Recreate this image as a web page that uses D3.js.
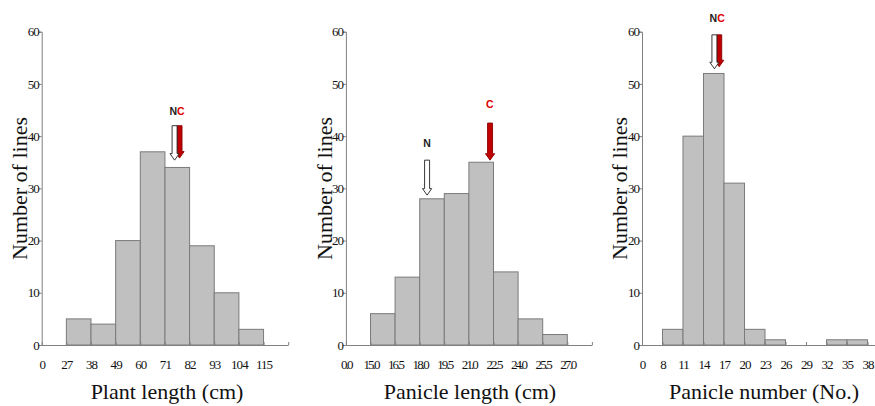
<!DOCTYPE html>
<html>
<head>
<meta charset="utf-8">
<script src="https://cdn.jsdelivr.net/npm/d3@7"></script>
<style>
  body { margin: 0; background: #fff; }
  svg { display: block; }
</style>
</head>
<body>
<div id="holder"></div>
<script>
// histogram counts per bin, bin edges follow the tick labels
const plantTicks = [0, 27, 38, 49, 60, 71, 82, 93, 104, 115];
const plantCounts = [5, 4, 20, 37, 34, 19, 10, 3];
const panLenTicks = [0, 15, 16.5, 18, 19.5, 21, 22.5, 24, 25.5, 27];
const panLenCounts = [6, 13, 28, 29, 35, 14, 5, 2];
const panNumTicks = [0, 8, 11, 14, 17, 20, 23, 26, 29, 32, 35, 38];
const panNumCounts = [3, 40, 52, 31, 3, 1, 0, 0, 1, 1];
const yTicks = [0, 10, 20, 30, 40, 50, 60];
const titles = ["Plant length (cm)", "Panicle length (cm)", "Panicle number (No.)"];

// parent means (N, C) arrows: x in data units, top/tip in counts
const plantArrows = [{name: "C", at: 77.5, top: 42, tip: 35.8}, {name: "N", at: 75.3, top: 42, tip: 35.4}];
const plantTags = [{parts: ["N", "C"], at: 76.4, level: 44}];
const panLenArrows = [{name: "N", at: 18.45, top: 35.4, tip: 28.7}, {name: "C", at: 22.29, top: 42.5, tip: 35.4}];
const panLenTags = [{parts: ["N"], at: 18.45, level: 37.9}, {parts: ["C"], at: 22.27, level: 45.4}];
const panNumArrows = [{name: "C", at: 16.3, top: 59.4, tip: 53.3}, {name: "N", at: 15.6, top: 59.4, tip: 52.9}];
const panNumTags = [{parts: ["N", "C"], at: 16.0, level: 61.8}];

const w = 875, h = 406;
const svg = d3.select("#holder").append("svg").attr("width", w).attr("height", h);

const y = d3.scaleLinear().domain([0, 60]).range([345, 31.7]);

const panels = [
  {ticks: plantTicks, counts: plantCounts, arrows: plantArrows, tags: plantTags, title: titles[0],
   x0: 41.7, step: 24.65, fmt: d => d, spacing: -0.9, titleX: 167, yTitleX: 27},
  {ticks: panLenTicks, counts: panLenCounts, arrows: panLenArrows, tags: panLenTags, title: titles[1],
   x0: 345.9, step: 24.6, fmt: d3.format(".1f"), spacing: -1.9, titleX: 470, yTitleX: 332},
  {ticks: panNumTicks, counts: panNumCounts, arrows: panNumArrows, tags: panNumTags, title: titles[2],
   x0: 642, step: 20.5, fmt: d => d, spacing: -1.1, titleX: 764, yTitleX: 627}
];

const axisColor = "#808080";

panels.forEach(p => {
  const last = p.ticks[p.ticks.length - 1];
  const gap = p.ticks[p.ticks.length - 1] - p.ticks[p.ticks.length - 2];
  const dom = p.ticks.concat([last + gap]);
  const x = d3.scaleLinear()
    .domain(dom)
    .range(dom.map((d, i) => p.x0 + i * p.step));

  const g = svg.append("g");

  // bars
  const edges = p.ticks.slice(1);
  g.selectAll("rect")
    .data(p.counts)
    .enter()
    .append("rect")
      .attr("x", (d, i) => x(edges[i]))
      .attr("y", d => y(d))
      .attr("width", (d, i) => x(edges[i + 1]) - x(edges[i]))
      .attr("height", d => y(0) - y(d))
      .attr("fill", d => d > 0 ? "#c0c0c0" : "none")
      .attr("stroke", d => d > 0 ? "#7a7a7a" : "none")
      .attr("stroke-width", 1);

  // x axis, ticks point inward
  const xAxis = d3.axisBottom(x)
    .tickValues(dom)
    .tickFormat((d, i) => i < p.ticks.length ? p.fmt(d) : "")
    .tickSizeInner(-3)
    .tickSizeOuter(0)
    .tickPadding(14.5);
  const gx = g.append("g").attr("transform", `translate(0,${y(0)})`).call(xAxis);
  gx.select(".domain").attr("stroke", axisColor);
  gx.selectAll(".tick line").attr("stroke", axisColor);
  gx.selectAll(".tick text")
    .attr("font-family", "Liberation Serif")
    .attr("font-size", 13)
    .attr("letter-spacing", p.spacing)
    .attr("fill", "#111");

  // y axis
  const yAxis = d3.axisLeft(y)
    .tickValues(yTicks)
    .tickSize(3)
    .tickPadding(0)
    ;
  const gy = g.append("g").attr("transform", `translate(${x(0)},0)`).call(yAxis);
  gy.select(".domain").attr("stroke", axisColor);
  gy.selectAll(".tick line").attr("stroke", axisColor);
  gy.selectAll(".tick text")
    .attr("font-family", "Liberation Serif")
    .attr("font-size", 13)
    .attr("letter-spacing", -1)
    .attr("fill", "#111");

  // axis titles
  g.append("text")
    .attr("x", p.titleX)
    .attr("y", 399)
    .attr("text-anchor", "middle")
    .attr("font-family", "Liberation Serif")
    .attr("font-size", 22)
    .attr("fill", "#111")
    .text(p.title);

  g.append("text")
    .attr("transform", `translate(${p.yTitleX},${188.5}) rotate(-90)`)
    .attr("text-anchor", "middle")
    .attr("font-family", "Liberation Serif")
    .attr("font-size", 22)
    .attr("fill", "#111")
    .text("Number of lines");

  // N / C arrows
  const arrowPath = a => {
    const cx = x(a.at), t = y(a.top), b = y(a.tip);
    const sw = 2.5, hw = 4.6, hl = 6.5;
    return `M${cx - sw},${t}L${cx + sw},${t}L${cx + sw},${b - hl}L${cx + hw},${b - hl}` +
      `L${cx},${b}L${cx - hw},${b - hl}L${cx - sw},${b - hl}Z`;
  };
  g.selectAll("path.arrow")
    .data(p.arrows)
    .enter()
    .append("path")
      .attr("class", "arrow")
      .attr("d", arrowPath)
      .attr("fill", a => a.name === "C" ? "#c00000" : "#fff")
      .attr("stroke", a => a.name === "C" ? "#8a0000" : "#222")
      .attr("stroke-width", 0.9);

  const tags = g.selectAll("text.tag")
    .data(p.tags)
    .enter()
    .append("text")
      .attr("class", "tag")
      .attr("x", t => x(t.at))
      .attr("y", t => y(t.level))
      .attr("text-anchor", "middle")
      .attr("font-family", "Liberation Sans")
      .attr("font-weight", "bold")
      .attr("font-size", 10.5);
  tags.selectAll("tspan")
    .data(t => t.parts)
    .enter()
    .append("tspan")
      .attr("fill", d => d === "C" ? "#e00000" : "#222")
      .text(d => d);
});
</script>
</body>
</html>
